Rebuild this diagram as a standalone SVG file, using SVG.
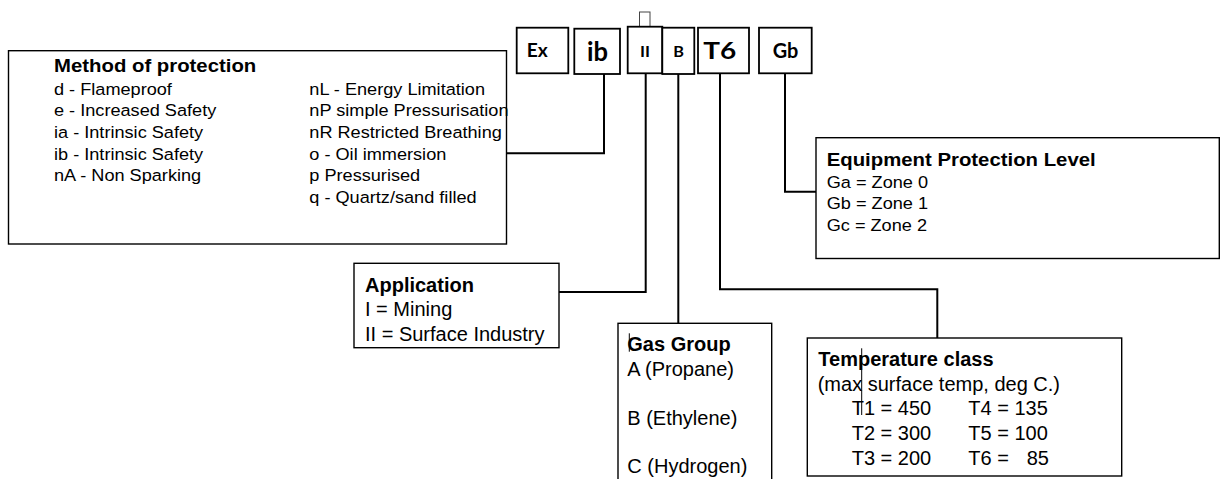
<svg xmlns="http://www.w3.org/2000/svg" width="1221" height="479" viewBox="0 0 1221 479">
<style>
  .box{fill:#fff;stroke:#000;stroke-width:1.4}
  .tbox{fill:#fff;stroke:#000;stroke-width:1.8}
  .conn{fill:none;stroke:#000;stroke-width:2}
  .cur{stroke:#000;stroke-width:1}
  .lbl{font-family:Lato,"Liberation Sans",sans-serif;font-weight:bold;fill:#000;text-anchor:middle}
  .h{font-family:"Liberation Sans",Arial,sans-serif;font-weight:bold;fill:#000}
  .r{font-family:"Liberation Sans",Arial,sans-serif;fill:#000}
  .s1{font-size:16.5px}
  .s1b{font-size:18.5px}
  .s2{font-size:20px}
</style>
<rect width="1221" height="479" fill="#fff"/>

<g id="connectors">
  <polyline class="conn" points="604,74 604,153.3 506.5,153.3"/>
  <polyline class="conn" points="645.7,73 645.7,292 559,292"/>
  <polyline class="conn" points="678.3,74 678.3,323.3"/>
  <polyline class="conn" points="720,73 720,289.3 937.3,289.3 937.3,338"/>
  <polyline class="conn" points="785,73 785,191.7 816,191.7"/>
</g>

<g id="marker-top">
  <rect x="639.5" y="12" width="10.5" height="15" fill="#fff" stroke="#444" stroke-width="1"/>
</g>

<g id="code-Ex">
  <rect class="tbox" x="516.7" y="27.7" width="51.6" height="45.6"/>
  <text class="lbl" x="537.2" y="57.3" font-size="18" textLength="21" lengthAdjust="spacingAndGlyphs">Ex</text>
</g>
<g id="code-ib">
  <rect class="tbox" x="574.3" y="28.7" width="45.7" height="45.3"/>
  <text class="lbl" x="597.5" y="60.7" font-size="27" textLength="21" lengthAdjust="spacingAndGlyphs">ib</text>
</g>
<g id="code-II">
  <rect class="tbox" x="627.7" y="26.7" width="34.6" height="46.6"/>
  <text class="lbl" x="645" y="57" font-size="15.5" textLength="10" lengthAdjust="spacingAndGlyphs">II</text>
</g>
<g id="code-B">
  <rect class="tbox" x="662.3" y="27.7" width="32" height="46.3"/>
  <text class="lbl" x="678.7" y="57" font-size="15" textLength="10.7" lengthAdjust="spacingAndGlyphs">B</text>
</g>
<g id="code-T6">
  <rect class="tbox" x="698" y="27.7" width="51" height="45.6"/>
  <text class="lbl" x="719.8" y="59.3" font-size="22" textLength="33" lengthAdjust="spacingAndGlyphs">T6</text>
</g>
<g id="code-Gb">
  <rect class="tbox" x="759" y="27.7" width="52.7" height="45.6"/>
  <text class="lbl" x="785.5" y="58.3" font-size="21" textLength="25.7" lengthAdjust="spacingAndGlyphs">Gb</text>
</g>

<g id="method">
  <rect class="box" x="8.5" y="50.7" width="498" height="193.3"/>
  <text class="h s1b" transform="translate(54 71.7) scale(1.1 1)">Method of protection</text>
  <text class="r s1" transform="translate(54 94.5) scale(1.1 1)">
    <tspan x="0" y="0">d - Flameproof</tspan>
    <tspan x="0" y="21.7">e - Increased Safety</tspan>
    <tspan x="0" y="43.4">ia - Intrinsic Safety</tspan>
    <tspan x="0" y="65.1">ib - Intrinsic Safety</tspan>
    <tspan x="0" y="86.8">nA - Non Sparking</tspan>
  </text>
  <text class="r s1" transform="translate(309.3 94.5) scale(1.1 1)">
    <tspan x="0" y="0">nL - Energy Limitation</tspan>
    <tspan x="0" y="21.7">nP simple Pressurisation</tspan>
    <tspan x="0" y="43.4">nR Restricted Breathing</tspan>
    <tspan x="0" y="65.1">o - Oil immersion</tspan>
    <tspan x="0" y="86.8">p Pressurised</tspan>
    <tspan x="0" y="108.5">q - Quartz/sand filled</tspan>
  </text>
</g>

<g id="epl">
  <rect class="box" x="816" y="137.7" width="403.3" height="120.8"/>
  <text class="h s1b" transform="translate(826.7 165.7) scale(1.1 1)">Equipment Protection Level</text>
  <text class="r s1" transform="translate(826.7 187.7) scale(1.1 1)">
    <tspan x="0" y="0">Ga = Zone 0</tspan>
    <tspan x="0" y="21.5">Gb = Zone 1</tspan>
    <tspan x="0" y="43">Gc = Zone 2</tspan>
  </text>
</g>

<g id="application">
  <rect class="box" x="354" y="263.3" width="205" height="84.4"/>
  <text class="h s2" x="365" y="291.7">Application</text>
  <text class="r s2">
    <tspan x="365" y="316">I = Mining</tspan>
    <tspan x="365" y="340.5">II = Surface Industry</tspan>
  </text>
</g>

<g id="gas-group">
  <rect class="box" x="618" y="323.3" width="153.7" height="170"/>
  <line class="cur" x1="629.3" y1="333.3" x2="629.3" y2="351.7"/>
  <text class="h s2" x="627.3" y="351">Gas Group</text>
  <text class="r s2">
    <tspan x="627.3" y="376">A (Propane)</tspan>
    <tspan x="627.3" y="424.5">B (Ethylene)</tspan>
    <tspan x="627.3" y="473">C (Hydrogen)</tspan>
  </text>
</g>

<g id="temperature">
  <rect class="box" x="807.3" y="338" width="314.4" height="138"/>
  <text class="h s2" x="818.3" y="365.7">Temperature class</text>
  <text class="r s2" x="817.7" y="390.5">(max surface temp, deg C.)</text>
  <text class="r s2">
    <tspan x="851.7" y="415">T1 = 450</tspan>
    <tspan x="851.7" y="440">T2 = 300</tspan>
    <tspan x="851.7" y="465">T3 = 200</tspan>
  </text>
  <text class="r s2">
    <tspan x="968.3" y="415">T4 = 135</tspan>
    <tspan x="968.3" y="440">T5 = 100</tspan>
    <tspan x="968.3" y="465">T6 = <tspan x="1026.7">85</tspan></tspan>
  </text>
  <line class="cur" x1="861.7" y1="348.3" x2="861.7" y2="415"/>
</g>
</svg>
